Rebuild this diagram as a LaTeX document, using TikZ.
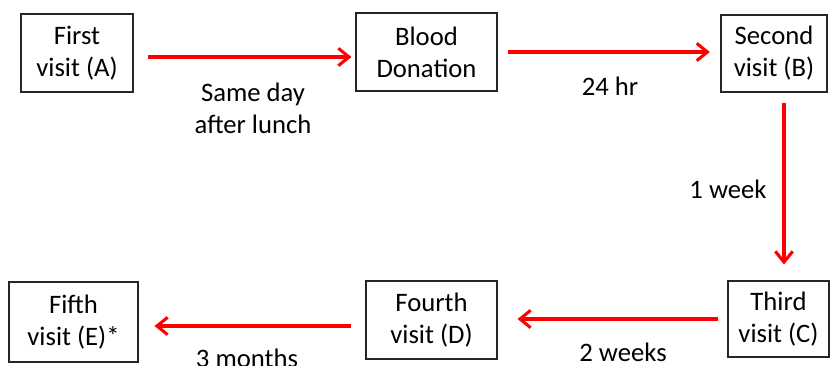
\documentclass[tikz,border=0pt]{standalone}
\usepackage{fontspec}
\setmainfont{Carlito}
\usepackage{tikz}
\usetikzlibrary{arrows.meta, positioning}

\begin{document}
\begin{tikzpicture}[x=0.75pt, y=0.75pt,
            visit/.style={draw=black!85,line width=0.8pt,inner sep=0pt,align=center,font=\fontsize{20}{24}\selectfont},
            gap/.style={inner sep=0pt,align=center,font=\fontsize{20}{24}\selectfont},
            flow/.style={draw=red,line width=2.3pt,-{Straight Barb[length=8pt,width=13pt]}}
        ]
            \useasboundingbox (0,0) rectangle (830,365);

            % Top row
            \node[visit,minimum width=112*0.75pt,minimum height=78*0.75pt] (A) at (77,312) {First\\visit (A)};
            \node[visit,minimum width=141*0.75pt,minimum height=78*0.75pt] (Blood) at (426.5,313) {Blood\\Donation};
            \node[visit,minimum width=106*0.75pt,minimum height=77*0.75pt] (B) at (774,311.5) {Second\\visit (B)};

            % Bottom row
            \node[visit,minimum width=101*0.75pt,minimum height=76*0.75pt] (C) at (778.5,46) {Third\\visit (C)};
            \node[visit,minimum width=131*0.75pt,minimum height=78*0.75pt] (D) at (431.5,45) {Fourth\\visit (D)};
            \node[visit,minimum width=129*0.75pt,minimum height=80*0.75pt] (E) at (73.5,43) {Fifth\\visit (E)*};

            % Intervals
            \node[gap] (t1) at (253,257) {Same day\\after lunch};
            \node[gap] (t2) at (610,279) {24 hr};
            \node[gap] (t3) at (728,176) {1 week};
            \node[gap] (t4) at (623,13) {2 weeks};
            \node[gap] (t5) at (247,7) {3 months};

            % Connections
            \draw[flow,shorten <=11pt,shorten >=3pt] ([yshift=-3pt]A.east) -- ([yshift=-3pt]A.east -| Blood.west);
            \draw[flow,shorten <=8pt,shorten >=8pt] (Blood.east) -- (Blood.east -| B.west);
            \draw[flow,shorten <=8pt,shorten >=12pt] ([xshift=7.5pt]B.south) -- ([xshift=7.5pt]B.south |- C.north);
            \draw[flow,shorten <=7pt,shorten >=15pt] (C.west) -- (C.west -| D.east);
            \draw[flow,shorten <=11pt,shorten >=12pt] ([yshift=-4.5pt]D.west) -- ([yshift=-4.5pt]D.west -| E.east);
        \end{tikzpicture}
\end{document}
